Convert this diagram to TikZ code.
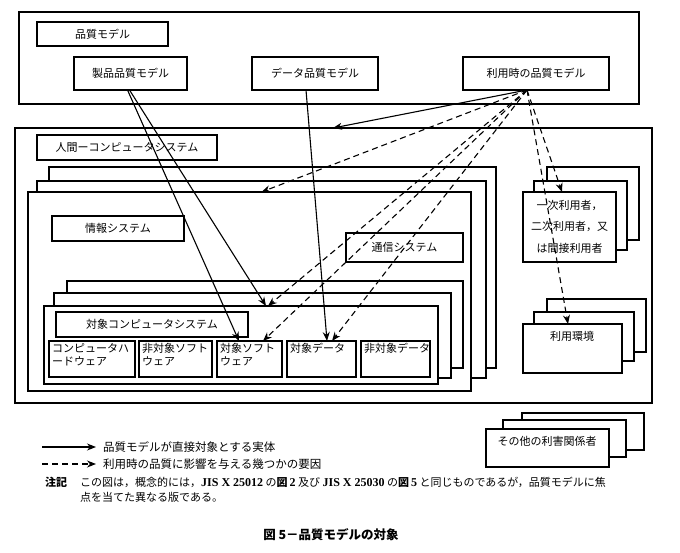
\documentclass[tikz,border=0pt]{standalone}
\usepackage{fontspec}
\setmainfont{Noto Sans CJK JP}
\newfontfamily\lser{Liberation Serif}
\usetikzlibrary{arrows.meta}
\newcommand\rb[6]{\node[box,anchor=north west,minimum width={(#4)-(#2)},minimum height={(#5)-(#3)}] (#1) at (#2,#3) {#6};}
\begin{document}
\begin{tikzpicture}[x=1pt,y=-1pt,
  box/.style={draw,fill=white,line width=1.1pt,inner sep=0pt,outer sep=0pt},
  every node/.style={font=\fontsize{11}{13}\selectfont},
  txt/.style={inner sep=0pt,anchor=north west},
  solidarr/.style={line width=1.1pt,-{Stealth[length=9pt,width=7pt]}},
  dasharr/.style={solidarr,dash pattern=on 6pt off 4pt}]
\useasboundingbox (0,0) rectangle (680,553);
% quality model area
\rb{top}{19}{12}{639}{104}{}
\rb{qm}{37}{22}{168}{46}{品質モデル}
\rb{pq}{74}{57}{187}{90}{製品品質モデル}
\rb{dq}{252}{57}{378}{90}{データ品質モデル}
\rb{qiu}{463}{57}{609}{90}{利用時の品質モデル}
% human-computer system
\rb{hcs}{15}{128}{652}{403}{}
\rb{hcsl}{37}{135}{217}{160}{人間ーコンピュータシステム}
\rb{la1}{49}{167}{496}{368}{}
\rb{la2}{37}{181}{486}{378}{}
\rb{main}{28}{192}{471}{391}{}
\rb{info}{52}{216}{184}{241}{情報システム}
\rb{comm}{346}{233}{463}{262}{通信システム}
\rb{ib}{67}{281}{463}{368}{}
\rb{im}{54}{293}{451}{378}{}
\rb{tcs}{44}{306}{438}{384}{}
\rb{tcsl}{56}{312}{248}{337}{対象コンピュータシステム}
\rb{hw}{49}{341}{135}{377}{}
\rb{nsw}{139}{341}{212}{377}{}
\rb{sw}{217}{341}{282}{377}{}
\rb{td}{287}{341}{356}{377}{}
\rb{ntd}{361}{341}{430}{377}{}
\node[txt] (hwt) at (52,343) {\parbox[t]{90pt}{コンピュータハ\\ードウェア}};
\node[txt] (nswt) at (142,343) {\parbox[t]{80pt}{非対象ソフト\\ウェア}};
\node[txt] (swt) at (220,343) {\parbox[t]{70pt}{対象ソフト\\ウェア}};
\node[txt] (tdt) at (290,343) {対象データ};
\node[txt] (ntdt) at (364,343) {非対象データ};
% users
\rb{ub}{547}{167}{639}{240}{}
\rb{um}{534}{181}{627}{250}{}
\rb{uf}{523}{192}{616}{262}{}
\node[align=center,font=\fontsize{11}{21.5}\selectfont] (ut) at (569.5,226.5) {一次利用者，\\二次利用者，又\\は間接利用者};
% environment
\rb{eb}{547}{299}{646}{352}{}
\rb{em}{534}{312}{634}{361}{}
\rb{ef}{523}{324}{622}{373}{}
\node (et) at (572,336) {利用環境};
% other stakeholders
\rb{ob}{522}{413}{644}{450}{}
\rb{om}{503}{420}{626}{457}{}
\rb{of}{486}{429}{609}{467}{}
\node (ot) at (547,441.5) {その他の利害関係者};
% arrows
\coordinate (o) at ([xshift=-9pt]qiu.south);
\draw[solidarr] ([xshift=-3pt]pq.south) -- ([xshift=22pt]sw.north west);
\draw[solidarr] ([xshift=-1pt]pq.south) -- ([xshift=222pt]tcs.north west);
\draw[solidarr] ([xshift=-9pt]dq.south) -- ([xshift=40pt]td.north west);
\draw[solidarr] (o) -- ([xshift=-0.5pt]hcs.north);
\draw[dasharr] (o) -- ([xshift=12pt]main.north);
\draw[dasharr] (o) -- ([xshift=224pt]tcs.north west);
\draw[dasharr] (o) -- ([xshift=46pt]sw.north west);
\draw[dasharr] (o) -- ([xshift=45pt]td.north west);
\draw[dasharr] (o) -- ([xshift=39pt]uf.north west);
\draw[dasharr] (o) -- ([xshift=45pt]ef.north west);
% legend
\coordinate (l1a) at (42,447);
\coordinate (l1b) at (96,447);
\coordinate (l2a) at (42,464);
\coordinate (l2b) at (96,464);
\draw[solidarr] (l1a) -- (l1b);
\draw[dasharr] (l2a) -- (l2b);
\node[anchor=west,inner sep=0pt,font=\fontsize{11.5}{13}\selectfont] (lt1) at (103,447) {品質モデルが直接対象とする実体};
\node[anchor=west,inner sep=0pt,font=\fontsize{11.5}{13}\selectfont] (lt2) at (103,464) {利用時の品質に影響を与える幾つかの要因};
% note
\node[anchor=west,inner sep=0pt,font=\fontsize{11}{13}\selectfont\bfseries] (nk) at (45,482) {注記};
\node[anchor=west,inner sep=0pt,font=\fontsize{11}{13}\selectfont] (n1) at (80,482) {この図は，概念的には，{\lser\bfseries\fontsize{12}{13}\selectfont JIS X 25012} の{\bfseries 図}{\lser\bfseries\fontsize{12}{13}\selectfont\,2} 及び {\lser\bfseries\fontsize{12}{13}\selectfont JIS X 25030} の{\bfseries 図}{\lser\bfseries\fontsize{12}{13}\selectfont\,5} と同じものであるが，品質モデルに焦};
\node[anchor=west,inner sep=0pt,font=\fontsize{11}{13}\selectfont] (n2) at (80,497) {点を当てた異なる版である。};
% caption
\node[font=\fontsize{12.5}{14}\selectfont\bfseries] (cap) at (331,535) {図 5－品質モデルの対象};
\end{tikzpicture}
\end{document}
